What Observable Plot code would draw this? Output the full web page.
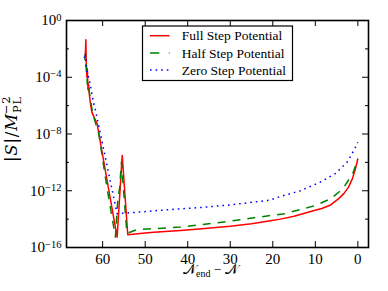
<!DOCTYPE html>
<html><head><meta charset="utf-8">
<script src="https://cdn.jsdelivr.net/npm/d3@7"></script>
<script src="https://cdn.jsdelivr.net/npm/@observablehq/plot@0.6"></script>
<style>body{margin:0;background:#fff} #chart{width:388px;height:291px}</style>
</head><body><div id="chart"></div>
<script>
// ---- data ----
const xFull = [64.1, 63.95, 63.85, 63.7, 63.6, 63.45, 63.3, 63.1, 62.8, 62.5, 61.3, 56.6, 55.4, 54.1, 50, 48, 41.7, 36, 30, 25, 20.6, 18.2, 15, 11.1, 8.5, 6.4, 4.5, 3.3, 2.2, 1.3, 0.6, 0];
const sFull = [2.5e-3, 4.4e-2, 1.0e-3, 1.0e-4, 4.0e-4, 1.3e-5, 3.2e-5, 5.0e-6, 1.0e-6, 3.2e-7, 5.2e-8, 5.4e-16, 3.1e-10, 7.9e-16, 1.05e-15, 1.2e-15, 1.6e-15, 2.2e-15, 3.2e-15, 4.8e-15, 7.6e-15, 1.0e-14, 1.6e-14, 3.5e-14, 5.6e-14, 1.0e-13, 2.8e-13, 6.3e-13, 1.8e-12, 6.9e-12, 3.2e-11, 1.8e-10];

const xHalf = [64.2, 64.05, 63.9, 63.6, 63.4, 63.1, 62.7, 62.3, 60.9, 59.0, 57.0, 56.4, 56.0, 55.6, 54.3, 52, 41.7, 30, 20.6, 17.2, 13.7, 10.0, 6.4, 3.5, 1.2, 0];
const sHalf = [1.6e-3, 4.0e-3, 6.3e-4, 3.2e-5, 5.0e-5, 7.9e-6, 1.26e-6, 2.5e-7, 1.0e-8, 1.8e-12, 5.4e-16, 3.2e-13, 1.6e-12, 1.05e-10, 1.0e-15, 1.8e-15, 2.75e-15, 7.2e-15, 1.8e-14, 2.4e-14, 4.6e-14, 9.1e-14, 2.7e-13, 1.4e-12, 1.6e-11, 1.8e-10];

const xZero = [64.3, 64.1, 63.8, 63.1, 62.1, 61.7, 56.6, 55.1, 53.5, 45, 37.8, 30, 20.6, 18.2, 13.5, 8.8, 5.3, 2.5, 0.94, 0];
const sZero = [2.3e-3, 5.0e-3, 3.2e-4, 5.9e-5, 1.35e-6, 5.0e-7, 2.4e-14, 2.6e-14, 2.8e-14, 4.5e-14, 6.3e-14, 1.0e-13, 2.2e-13, 4.0e-13, 1.0e-12, 4.1e-12, 1.6e-11, 1.05e-10, 6.9e-10, 2.6e-9];

const xTicks = [60, 50, 40, 30, 20, 10, 0];
const yMajor = [1e0, 1e-4, 1e-8, 1e-12, 1e-16];
const yMinor = [1e-2, 1e-6, 1e-10, 1e-14];
const yExponents = ["0", "\u22124", "\u22128", "\u221212", "\u221216"];
const seriesNames = ["Full Step Potential", "Half Step Potential", "Zero Step Potential"];
const seriesColors = ["#ff0000", "#008000", "#0000ff"];
const seriesDash = [null, "8,7", "1.6,4"];
const legendDash = [null, "9.3,9.5", "1.6,4"];

// ---- layout ----
const W = 388, H = 291, mL = 66, mR = 20, mT = 20, mB = 44;
const fw = W - mL - mR, fh = H - mT - mB;
const rows = (xs, ss) => xs.map((x, i) => ({x, s: ss[i]}));
const series = [rows(xFull, sFull), rows(xHalf, sHalf), rows(xZero, sZero)];
const FONT = "Liberation Serif, DejaVu Serif, serif";

const lineMarks = series.map((d, i) => Plot.line(d, {
  x: "x", y: "s", stroke: seriesColors[i], strokeWidth: 1.5,
  strokeDasharray: seriesDash[i], strokeLinejoin: "round", strokeLinecap: "butt"
}));

const plot = Plot.plot({
  width: W, height: H, marginLeft: mL, marginRight: mR, marginTop: mT, marginBottom: mB,
  style: {fontFamily: FONT, fontSize: "15px", color: "#000", background: "#fff", overflow: "visible"},
  x: {domain: [68.5, -2.5], label: null},
  y: {type: "log", domain: [1e-16, 1], label: null},
  marks: [
    ...lineMarks,
    Plot.tickX(xTicks, {x: d => d, insetTop: fh - 6, stroke: "#000", strokeWidth: 1}),
    Plot.tickX(xTicks, {x: d => d, insetBottom: fh - 6, stroke: "#000", strokeWidth: 1}),
    Plot.tickY(yMajor, {y: d => d, insetRight: fw - 6, stroke: "#000", strokeWidth: 1}),
    Plot.tickY(yMajor, {y: d => d, insetLeft: fw - 6, stroke: "#000", strokeWidth: 1}),
    Plot.tickY(yMinor, {y: d => d, insetRight: fw - 3, stroke: "#000", strokeWidth: 1}),
    Plot.tickY(yMinor, {y: d => d, insetLeft: fw - 3, stroke: "#000", strokeWidth: 1}),
    Plot.frame({stroke: "#000", strokeWidth: 1.6}),
    Plot.axisX(xTicks, {tickSize: 0, tickPadding: 6, label: null, fontSize: 15, fontFamily: FONT}),
    Plot.axisY(yMajor, {tickSize: 0, tickPadding: 5, label: null, fontSize: 15, fontFamily: FONT,
      tickFormat: d => "10^" + yExponents[yMajor.indexOf(d)]})
  ]
});
document.getElementById("chart").appendChild(plot);

const svg = d3.select(plot);

// superscript exponents on y tick labels
svg.selectAll('g[aria-label="y-axis tick label"] text').each(function() {
  const t = d3.select(this);
  const parts = t.text().split("^");
  if (parts.length !== 2) return;
  t.text("");
  t.append("tspan").text(parts[0]);
  t.append("tspan").attr("dy", "-0.45em").attr("font-size", "10.5px").text(parts[1]);
});

// y label: |S|/M_PL^-2 (reads bottom to top, starting near y = 162)
const yl = svg.append("text")
  .attr("transform", "translate(17,162) rotate(-90)")
  .attr("text-anchor", "start").attr("font-family", "DejaVu Serif, serif")
  .attr("font-size", "16.5px").attr("letter-spacing", "0.8px").attr("fill", "#000");
yl.append("tspan").text("|");
yl.append("tspan").attr("font-style", "italic").text("S");
yl.append("tspan").text("|/");
yl.append("tspan").attr("font-style", "italic").text("M");
yl.append("tspan").attr("font-size", "11.5px").attr("dy", 4).text("PL");
yl.append("tspan").attr("font-size", "11.5px").attr("dx", -18).attr("dy", -11).text("\u22122");

// x label: N_end - N
const xl = svg.append("text")
  .attr("x", 183).attr("y", 273.5)
  .attr("text-anchor", "start").attr("font-family", FONT).attr("font-size", "13.5px").attr("fill", "#000");
xl.append("tspan").text("\u{1D4A9}");
xl.append("tspan").attr("font-size", "10px").attr("dy", 3).text("end");
xl.append("tspan").attr("dy", -3).text(" \u2212 \u{1D4A9}");

// legend
const lg = svg.append("g");
lg.append("rect").attr("x", 142.5).attr("y", 26).attr("width", 150).attr("height", 54.5)
  .attr("fill", "#fff").attr("stroke", "#000").attr("stroke-width", 1.2);
seriesNames.forEach((name, i) => {
  const cy = 35.7 + i * 17.2;
  lg.append("line").attr("x1", 150).attr("x2", 169.5).attr("y1", cy).attr("y2", cy)
    .attr("stroke", seriesColors[i]).attr("stroke-width", 1.5)
    .attr("stroke-dasharray", legendDash[i]);
  lg.append("text").attr("x", 181.7).attr("y", cy).attr("dy", "0.35em")
    .attr("text-anchor", "start")
    .attr("font-family", FONT).attr("font-size", "13.5px").attr("fill", "#000").text(name);
});
</script>
</body></html>
